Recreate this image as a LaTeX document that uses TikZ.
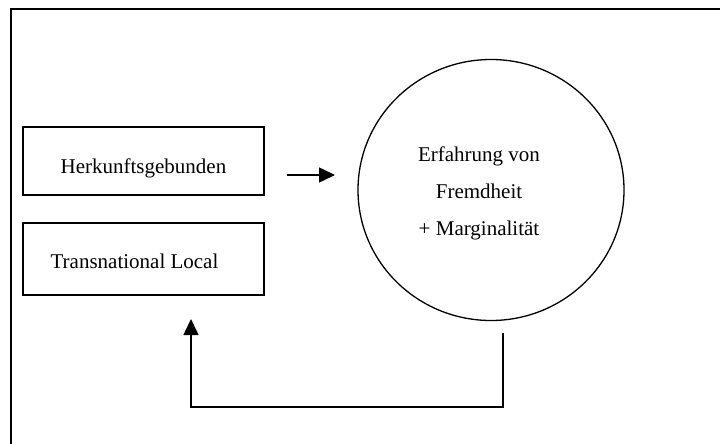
\documentclass[tikz,border=0pt]{standalone}
\usepackage{fontspec}
\setmainfont{Liberation Serif}
\usetikzlibrary{shapes.geometric,arrows.meta}
\begin{document}
\begin{tikzpicture}[x=1pt,y=-1pt,
  box/.style={draw,line width=1.6pt,rectangle,minimum width=241pt,inner sep=0pt},
  lbl/.style={font=\fontsize{21}{25}\selectfont,inner sep=0pt,anchor=base},
  conn/.style={line width=1.5pt},
  tip/.style={-{Triangle[length=16pt,width=15pt]}},
  frame/.style={line width=2.4pt,line join=miter}]
\useasboundingbox (0,0) rectangle (720,444);
\coordinate (f1) at (11,444);
\coordinate (f2) at (11,9);
\coordinate (f3) at (720,9);
\draw[frame] (f1) -- (f2) -- (f3);
\node[box,minimum height=68pt] (b1) at (143.5,161) {};
\node[box,minimum height=72pt] (b2) at (143.5,259) {};
\node[lbl] (t1) at (143.5,173) {Herkunftsgebunden};
\node[lbl] (t2) at (134.5,268) {Transnational Local};
\node[draw,ellipse,line width=1.3pt,minimum width=266pt,minimum height=261pt,inner sep=0pt] (c) at (491,190) {};
\node[lbl] (c1) at (479,161.5) {Erfahrung von};
\node[lbl] (c2) at (479,198) {Fremdheit};
\node[lbl] (c3) at (479,235) {+ Marginalität};
\coordinate (a1) at (287,175);
\coordinate (a2) at (335,175);
\draw[conn,tip] (a1) -- (a2);
\coordinate (r1) at (503,333);
\coordinate (low) at (0,407);
\coordinate (r2) at (191,319);
\draw[conn,tip,line join=miter] (r1) -- (r1 |- low) -| (r2);
\end{tikzpicture}
\end{document}
